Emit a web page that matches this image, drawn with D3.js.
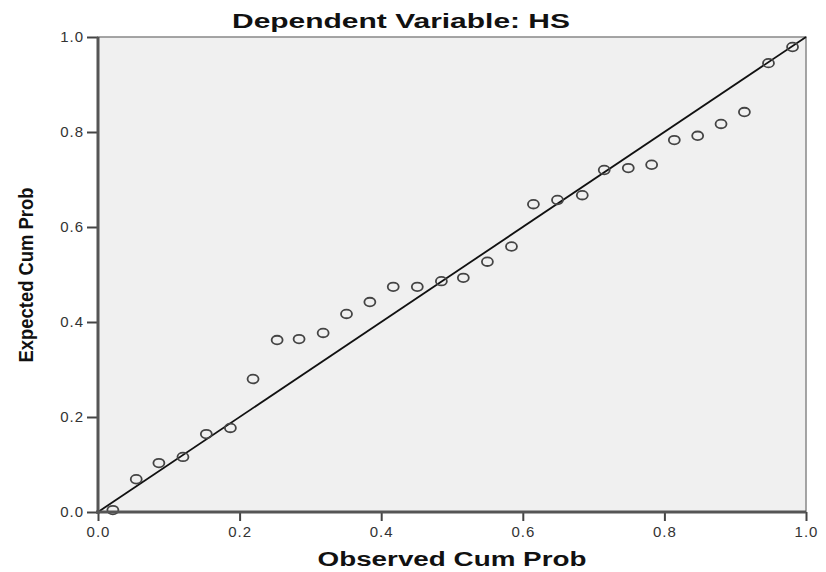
<!DOCTYPE html>
<meta charset='utf-8'>
<style>
    body { margin: 0; background: #fff; }
    text { font-family: "Liberation Sans", Arial, sans-serif; }
    .tick line { stroke: #444; stroke-width: 2; }
    .tick text { letter-spacing: 1px; }
    .domain { display: none; }
</style>

<svg width="826" height="572"></svg>
<script src="https://d3js.org/d3.v7.min.js"></script>

<script>

// observed cumulative probability (x) and expected cumulative probability (y)
var observed = [0.021, 0.054, 0.086, 0.120, 0.153, 0.187, 0.219, 0.253, 0.284, 0.318,
                0.351, 0.384, 0.417, 0.451, 0.485, 0.516, 0.550, 0.584, 0.615, 0.649,
                0.684, 0.715, 0.749, 0.782, 0.814, 0.847, 0.880, 0.913, 0.947, 0.981];
var expected = [0.004, 0.069, 0.103, 0.116, 0.164, 0.177, 0.280, 0.362, 0.364, 0.377,
                0.417, 0.442, 0.474, 0.474, 0.486, 0.493, 0.527, 0.559, 0.648, 0.657,
                0.667, 0.720, 0.724, 0.731, 0.783, 0.792, 0.817, 0.842, 0.945, 0.979];
var ticks = [0.0, 0.2, 0.4, 0.6, 0.8, 1.0];
var title = 'Dependent Variable: HS',
    xTitle = 'Observed Cum Prob',
    yTitle = 'Expected Cum Prob';

var svg = d3.select('svg');

var pLeft = 98, pRight = 806, pTop = 37, pBottom = 512;

var x = d3.scaleLinear().domain([0, 1]).range([pLeft, pRight]);
var y = d3.scaleLinear().domain([0, 1]).range([pBottom, pTop]);

// plot background + thin frame
svg.append('rect')
    .attr('x', pLeft).attr('y', pTop)
    .attr('width', pRight - pLeft).attr('height', pBottom - pTop)
    .attr('fill', '#f0f0f0')
    .attr('stroke', '#888')
    .attr('stroke-width', 1.5);

// reference diagonal
svg.append('line')
    .attr('x1', x(0)).attr('y1', y(0))
    .attr('x2', x(1)).attr('y2', y(1))
    .attr('stroke', '#111')
    .attr('stroke-width', 1.8);

// points
svg.append('g')
   .selectAll('ellipse')
   .data(observed)
   .enter().append('ellipse')
    .attr('cx', function(d) { return x(d); })
    .attr('cy', function(d, i) { return y(expected[i]); })
    .attr('rx', 5.5)
    .attr('ry', 4.3)
    .attr('fill', 'none')
    .attr('stroke', '#444')
    .attr('stroke-width', 1.8);

// axes
var fmt = d3.format('.1f');
svg.append('g')
    .attr('transform', 'translate(0,' + pBottom + ')')
    .call(d3.axisBottom(x).tickValues(ticks).tickFormat(fmt).tickSize(9).tickPadding(5))
    .attr('font-size', 15).attr('font-family', null)
    .selectAll('text').attr('fill', '#333');

svg.append('g')
    .attr('transform', 'translate(' + pLeft + ',0)')
    .call(d3.axisLeft(y).tickValues(ticks).tickFormat(fmt).tickSize(11).tickPadding(3))
    .attr('font-size', 15).attr('font-family', null)
    .selectAll('text').attr('fill', '#333');

// heavy axis lines
svg.append('line')
    .attr('x1', pLeft).attr('y1', pTop).attr('x2', pLeft).attr('y2', pBottom + 2)
    .attr('stroke', '#555').attr('stroke-width', 3);
svg.append('line')
    .attr('x1', pLeft - 2).attr('y1', pBottom).attr('x2', pRight).attr('y2', pBottom)
    .attr('stroke', '#555').attr('stroke-width', 3);

// titles
svg.append('text')
    .attr('x', 401).attr('y', 28)
    .attr('text-anchor', 'middle')
    .attr('font-size', 20).attr('font-weight', 'bold')
    .attr('textLength', 338).attr('lengthAdjust', 'spacingAndGlyphs')
    .attr('fill', '#111')
    .text(title);

svg.append('text')
    .attr('x', 452).attr('y', 566)
    .attr('text-anchor', 'middle')
    .attr('font-size', 20).attr('font-weight', 'bold')
    .attr('textLength', 269).attr('lengthAdjust', 'spacingAndGlyphs')
    .attr('fill', '#111')
    .text(xTitle);

svg.append('text')
    .attr('transform', 'translate(33,275) rotate(-90)')
    .attr('text-anchor', 'middle')
    .attr('font-size', 21).attr('font-weight', 'bold')
    .attr('textLength', 175).attr('lengthAdjust', 'spacingAndGlyphs')
    .attr('fill', '#111')
    .text(yTitle);

</script>
